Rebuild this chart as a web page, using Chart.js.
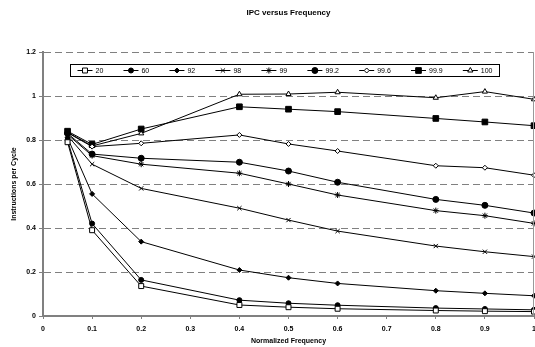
<!DOCTYPE html>
<html>
<head>
<meta charset="utf-8">
<script src="https://cdn.jsdelivr.net/npm/chart.js@4/dist/chart.umd.min.js"></script>
<style>
  html, body { margin: 0; padding: 0; background: #fff; }
  #wrap { width: 535px; height: 347px; }
</style>
</head>
<body>
<div id="wrap"><canvas id="ipcChart"></canvas></div>
<script>
// --- data ---
const freq = [0.05, 0.1, 0.2, 0.4, 0.5, 0.6, 0.8, 0.9, 1.0];
const seriesNames = ['20', '60', '92', '98', '99', '99.2', '99.6', '99.9', '100'];
const ipc20   = [0.79, 0.39, 0.136, 0.05, 0.04, 0.033, 0.025, 0.022, 0.02];
const ipc60   = [0.80, 0.42, 0.164, 0.072, 0.058, 0.049, 0.036, 0.032, 0.028];
const ipc92   = [0.81, 0.555, 0.338, 0.209, 0.174, 0.148, 0.115, 0.103, 0.092];
const ipc98   = [0.82, 0.69, 0.58, 0.49, 0.436, 0.386, 0.318, 0.292, 0.27];
const ipc99   = [0.825, 0.729, 0.69, 0.649, 0.6, 0.55, 0.479, 0.456, 0.421];
const ipc99_2 = [0.83, 0.736, 0.717, 0.699, 0.659, 0.608, 0.53, 0.503, 0.468];
const ipc99_6 = [0.833, 0.77, 0.785, 0.823, 0.782, 0.75, 0.683, 0.674, 0.64];
const ipc99_9 = [0.84, 0.78, 0.85, 0.951, 0.94, 0.929, 0.898, 0.882, 0.865];
const ipc100  = [0.835, 0.773, 0.83, 1.008, 1.009, 1.017, 0.992, 1.02, 0.985];
const allSeries = [ipc20, ipc60, ipc92, ipc98, ipc99, ipc99_2, ipc99_6, ipc99_9, ipc100];

// marker look per series (Excel style)
const markers = [
  { style: 'rect',     r: 3.5, fill: '#fff' },
  { style: 'circle',   r: 2.5, fill: '#000' },
  { style: 'rectRot',  r: 2.5, fill: '#000' },
  { style: 'crossRot', r: 3,   fill: '#000' },
  { style: 'star',     r: 3,   fill: '#000' },
  { style: 'circle',   r: 3,   fill: '#000' },
  { style: 'rectRot',  r: 2.5, fill: '#fff' },
  { style: 'rect',     r: 4,   fill: '#000' },
  { style: 'triangle', r: 3,   fill: '#fff' }
];

const FONT = '"Liberation Sans", Arial, sans-serif';

const datasets = seriesNames.map((name, i) => ({
  label: name,
  data: freq.map((f, j) => ({ x: f, y: allSeries[i][j] })),
  borderColor: '#000',
  borderWidth: 1,
  pointStyle: markers[i].style,
  pointRadius: markers[i].r,
  pointBackgroundColor: markers[i].fill,
  pointBorderColor: '#000',
  pointBorderWidth: 1,
  tension: 0,
  clip: false
}));

// title + boxed legend drawn inside the plot like the Excel original
const excelDecor = {
  id: 'excelDecor',
  afterDraw(chart) {
    const ctx = chart.ctx;
    const area = chart.chartArea;
    ctx.save();

    // title
    ctx.fillStyle = '#000';
    ctx.font = 'bold 8px ' + FONT;
    ctx.textAlign = 'center';
    ctx.textBaseline = 'middle';
    ctx.fillText('IPC versus Frequency', (area.left + area.right) / 2, 13);

    // right border of plot
    ctx.strokeStyle = '#999';
    ctx.lineWidth = 1;
    ctx.beginPath();
    ctx.moveTo(area.right - 0.5, area.top);
    ctx.lineTo(area.right - 0.5, area.bottom);
    ctx.stroke();

    // legend box
    const bx = 70.5, by = 64.5, bw = 429, bh = 12;
    ctx.fillStyle = '#fff';
    ctx.fillRect(bx, by, bw, bh);
    ctx.strokeStyle = '#000';
    ctx.lineWidth = 1;
    ctx.strokeRect(bx, by, bw, bh);

    ctx.font = '7px ' + FONT;
    ctx.textAlign = 'left';
    const lineLen = 15, gapText = 3;
    const widths = chart.data.datasets.map(d => lineLen + gapText + ctx.measureText(d.label).width);
    const total = widths.reduce((a, b) => a + b, 0);
    const padX = 7;
    const gap = (bw - 2 * padX - total) / (widths.length - 1);
    let x = bx + padX;
    const cy = by + bh / 2;
    chart.data.datasets.forEach((d, i) => {
      ctx.strokeStyle = '#000';
      ctx.lineWidth = 1;
      ctx.beginPath();
      ctx.moveTo(x, cy);
      ctx.lineTo(x + lineLen, cy);
      ctx.stroke();
      ctx.fillStyle = d.pointBackgroundColor;
      ctx.strokeStyle = '#000';
      Chart.helpers.drawPoint(ctx, {
        pointStyle: d.pointStyle,
        radius: d.pointRadius,
        rotation: 0,
        borderWidth: 1
      }, x + lineLen / 2, cy);
      ctx.fillStyle = '#000';
      ctx.fillText(d.label, x + lineLen + gapText, cy + 0.5);
      x += widths[i] + gap;
    });
    ctx.restore();
  }
};

new Chart(document.getElementById('ipcChart').getContext('2d'), {
  type: 'line',
  data: { datasets },
  options: {
    responsive: true,
    maintainAspectRatio: false,
    animation: false,
    layout: { autoPadding: false, padding: { top: 52, right: 1, left: 0, bottom: 0 } },
    plugins: {
      legend: { display: false },
      title: { display: false },
      tooltip: { enabled: false }
    },
    scales: {
      x: {
        type: 'linear',
        min: 0,
        max: 1,
        ticks: {
          stepSize: 0.1,
          color: '#000',
          font: { family: FONT, size: 7, weight: 'bold' },
          padding: 6,
          maxRotation: 0,
          callback: v => +v.toFixed(1)
        },
        grid: { drawOnChartArea: false, drawTicks: true, tickLength: 3, color: '#808080' },
        border: { display: true, color: '#808080', width: 2 },
        title: {
          display: true,
          text: 'Normalized Frequency',
          color: '#000',
          font: { family: FONT, size: 7, weight: 'bold' },
          padding: { top: 3, bottom: 2 }
        },
        afterFit: s => { s.height = 31; s.paddingLeft = 0; s.paddingRight = 0; }
      },
      y: {
        min: 0,
        max: 1.2,
        ticks: {
          stepSize: 0.2,
          color: '#000',
          font: { family: FONT, size: 7, weight: 'bold' },
          padding: 3,
          callback: v => +v.toFixed(1)
        },
        grid: { color: '#808080', lineWidth: 1, tickLength: 4 },
        border: { display: true, color: '#808080', width: 2, dash: [7, 4] },
        title: {
          display: true,
          text: 'Instructions per Cycle',
          color: '#000',
          font: { family: FONT, size: 7, weight: 'bold' },
          padding: { top: 10, bottom: 4 }
        },
        afterFit: s => { s.width = 43; s.paddingTop = 0; s.paddingBottom = 0; }
      }
    }
  },
  plugins: [excelDecor]
});
</script>
</body>
</html>
